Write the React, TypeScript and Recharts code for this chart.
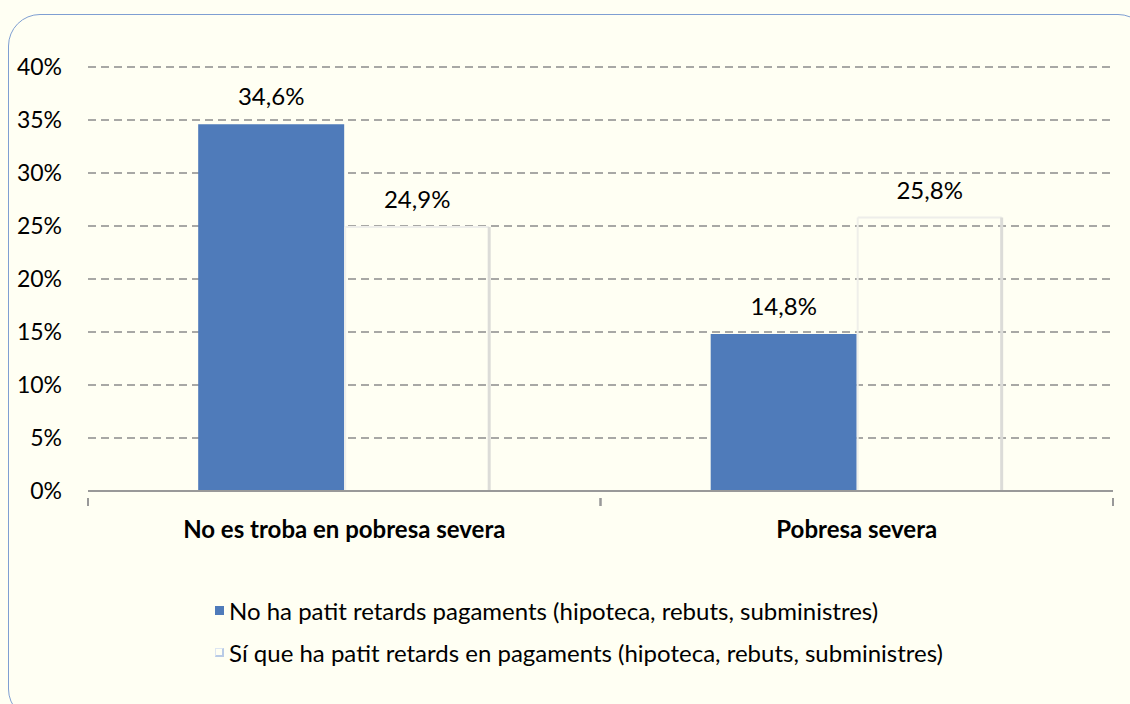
import { BarChart, Bar, XAxis, YAxis, CartesianGrid, LabelList } from 'recharts';

const categories = ['No es troba en pobresa severa', 'Pobresa severa'];
const noRetards = [34.6, 14.8];
const siRetards = [24.9, 25.8];
const yTicks = [0, 5, 10, 15, 20, 25, 30, 35, 40];
const seriesNames = [
  'No ha patit retards pagaments (hipoteca, rebuts, subministres)',
  'Sí que ha patit retards en pagaments (hipoteca, rebuts, subministres)',
];

const data = categories.map((name, i) => ({
  name,
  no: noRetards[i],
  si: siRetards[i],
}));

const W = 1130;
const H = 704;
const X_H = 30;
const M = { top: 67, right: 17, bottom: 213 - X_H, left: 8 };
const Y_W = 80;
const BAND = (W - M.left - Y_W - M.right) / categories.length;
const FONT = 'Lato, "Noto Sans", sans-serif';
const FS = 24;

const fmt = (v: number) => `${v.toFixed(1).replace('.', ',')}%`;

const XTick = (props: any) => {
  const { x, y, payload } = props;
  return (
    <g>
      <line x1={x - BAND / 2} y1={y - 1} x2={x - BAND / 2} y2={y + 7} stroke="#999" strokeWidth={2} />
      <line x1={x + BAND / 2} y1={y - 1} x2={x + BAND / 2} y2={y + 7} stroke="#999" strokeWidth={2} />
      <text x={x} y={y + 39} textAnchor="middle" fontSize={FS} fontWeight={700} fill="#000" fontFamily={FONT}>
        {payload.value}
      </text>
    </g>
  );
};

const GhostBar = (props: any) => {
  const { x, y, width, height } = props;
  return (
    <g>
      <line x1={x + 1} y1={y} x2={x + width - 1} y2={y} stroke="#eeeeea" strokeWidth={2} />
      <line x1={x + 1} y1={y} x2={x + 1} y2={y + height} stroke="#efefea" strokeWidth={2} />
      <line x1={x + width - 1} y1={y} x2={x + width - 1} y2={y + height} stroke="#dcdcd8" strokeWidth={3} />
    </g>
  );
};

const LegendBox = () => (
  <div
    style={{
      position: 'absolute',
      left: 215,
      top: 589,
      fontFamily: FONT,
      fontSize: FS,
      color: '#000',
      whiteSpace: 'nowrap',
    }}
  >
    <div style={{ display: 'flex', alignItems: 'center', height: 42 }}>
      <span style={{ width: 9, height: 9, background: '#4F7BBA', marginRight: 5, display: 'inline-block' }} />
      {seriesNames[0]}
    </div>
    <div style={{ display: 'flex', alignItems: 'center', height: 42 }}>
      <span
        style={{
          width: 9,
          height: 9,
          border: '1px solid #dde6f2',
          borderRight: '2px solid #b9cbe6',
          borderBottom: '2px solid #b9cbe6',
          marginRight: 5,
          display: 'inline-block',
          boxSizing: 'border-box',
        }}
      />
      {seriesNames[1]}
    </div>
  </div>
);

export default function App() {
  return (
    <div
      style={{
        position: 'absolute',
        left: 0,
        top: 0,
        width: W,
        height: H,
        overflow: 'hidden',
        background: '#FFFFF3',
      }}
    >
      <div
        style={{
          position: 'absolute',
          left: 8,
          top: 14,
          width: 1140,
          height: 705,
          border: '1.5px solid #7F9FD2',
          borderRadius: 32,
        }}
      />
      <BarChart
        width={W}
        height={H}
        data={data}
        margin={M}
        barCategoryGap="21.5%"
        barGap={0}
        style={{ position: 'absolute', left: 0, top: 0 }}
      >
        <CartesianGrid
          vertical={false}
          stroke="#8c8c8c"
          strokeWidth={1.5}
          strokeDasharray="8 5"
          horizontalValues={yTicks.slice(1)}
        />
        <XAxis
          dataKey="name"
          height={X_H}
          axisLine={{ stroke: '#999', strokeWidth: 2 }}
          tickLine={false}
          tick={<XTick />}
          interval={0}
        />
        <YAxis
          domain={[0, 40]}
          ticks={yTicks}
          width={Y_W}
          axisLine={false}
          tickLine={false}
          tickSize={0}
          tickMargin={26}
          tickFormatter={(v: number) => `${v}%`}
          tick={{ fontSize: 23, fill: '#000', fontFamily: FONT }}
        />
        <Bar dataKey="no" name={seriesNames[0]} fill="#4F7BBA" isAnimationActive={false}>
          <LabelList
            dataKey="no"
            position="top"
            offset={19}
            formatter={(v: any) => fmt(Number(v))}
            style={{ fontSize: FS, fill: '#000', fontFamily: FONT }}
          />
        </Bar>
        <Bar dataKey="si" name={seriesNames[1]} fill="none" shape={<GhostBar />} isAnimationActive={false}>
          <LabelList
            dataKey="si"
            position="top"
            offset={19}
            formatter={(v: any) => fmt(Number(v))}
            style={{ fontSize: FS, fill: '#000', fontFamily: FONT }}
          />
        </Bar>
      </BarChart>
      <LegendBox />
    </div>
  );
}
